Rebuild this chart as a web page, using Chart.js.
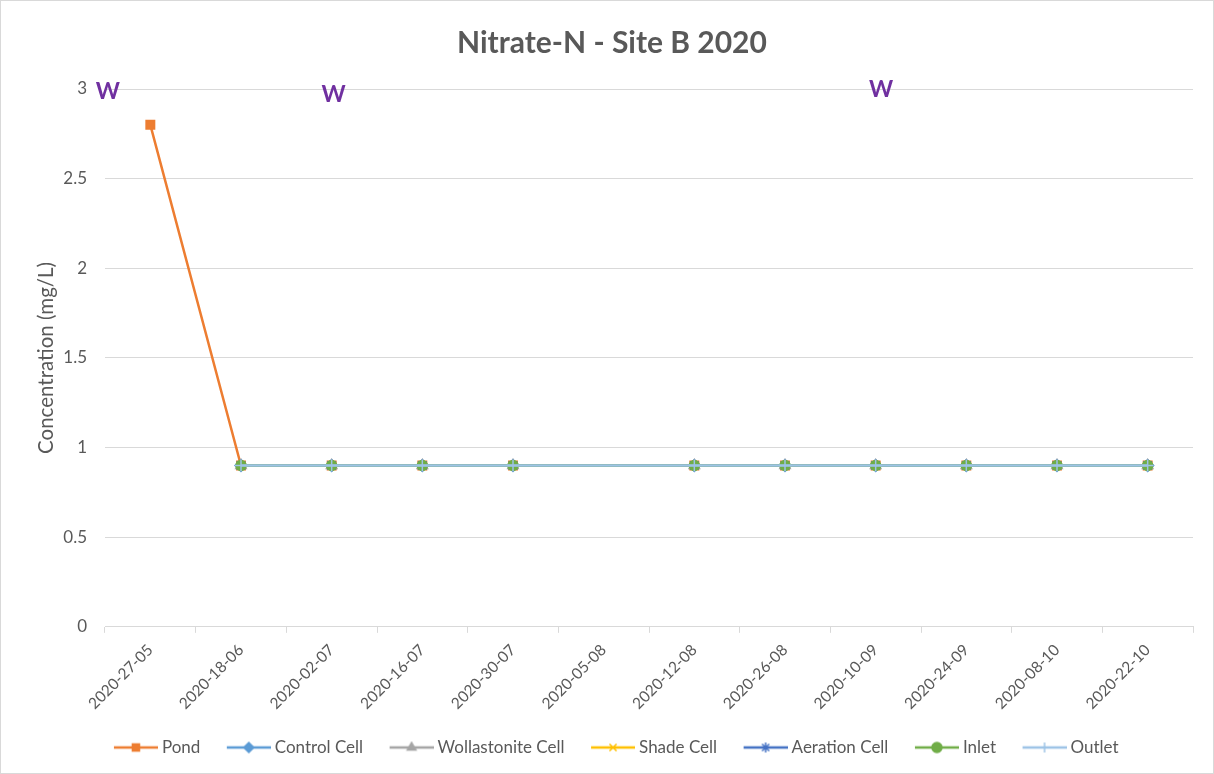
<!DOCTYPE html>
<html>
<head>
<meta charset="utf-8">
<script src="https://cdn.jsdelivr.net/npm/chart.js@4"></script>
<style>
html, body { margin: 0; padding: 0; background: #fff; }
#wrap { width: 1212px; height: 772px; border: 1px solid #d9d9d9; }
</style>
</head>
<body>
<div id="wrap"><canvas id="chart" width="1212" height="772"></canvas></div>
<script>
// sampling dates as printed on the axis
const dates = ["2020-27-05", "2020-18-06", "2020-02-07", "2020-16-07", "2020-30-07", "2020-05-08",
  "2020-12-08", "2020-26-08", "2020-10-09", "2020-24-09", "2020-08-10", "2020-22-10"];

const pond         = [2.8, 0.9, 0.9, 0.9, 0.9, null, 0.9, 0.9, 0.9, 0.9, 0.9, 0.9];
const controlCell  = [null, 0.9, 0.9, 0.9, 0.9, null, 0.9, 0.9, 0.9, 0.9, 0.9, 0.9];
const wollastonite = [null, 0.9, 0.9, 0.9, 0.9, null, 0.9, 0.9, 0.9, 0.9, 0.9, 0.9];
const shadeCell    = [null, 0.9, 0.9, 0.9, 0.9, null, 0.9, 0.9, 0.9, 0.9, 0.9, 0.9];
const aeration     = [null, 0.9, 0.9, 0.9, 0.9, null, 0.9, 0.9, 0.9, 0.9, 0.9, 0.9];
const inlet        = [null, 0.9, 0.9, 0.9, 0.9, null, 0.9, 0.9, 0.9, 0.9, 0.9, 0.9];
const outlet       = [null, 0.9, 0.9, 0.9, 0.9, null, 0.9, 0.9, 0.9, 0.9, 0.9, 0.9];

// "W" notes: category position and value
const wPos    = [-0.47, 2.02, 8.06];
const wValues = [2.99, 2.97, 3.0];

const FONT = "Lato, 'Liberation Sans', sans-serif";
const GREY = "#595959";

function series(label, data, color, style, radius, order) {
  return {
    label: label,
    data: data,
    borderColor: color,
    backgroundColor: color,
    pointBackgroundColor: color,
    pointBorderColor: color,
    pointStyle: style,
    pointRadius: radius,
    pointBorderWidth: 1.5,
    borderWidth: 2.5,
    spanGaps: true,
    tension: 0,
    order: order
  };
}

const datasets = [
  series("Pond", pond, "#ED7D31", "rect", 6, 6),
  series("Control Cell", controlCell, "#5B9BD5", "rectRot", 6, 5),
  series("Wollastonite Cell", wollastonite, "#A5A5A5", "triangle", 6, 4),
  series("Shade Cell", shadeCell, "#FFC000", "crossRot", 6, 3),
  series("Aeration Cell", aeration, "#4472C4", "star", 6, 2),
  series("Inlet", inlet, "#70AD47", "circle", 5, 1),
  series("Outlet", outlet, "#9DC3E6", "cross", 6, 0)
];

// legend swatch: short line with the marker in the middle
// (transparent margin on the left gives the gap between entries)
function swatch(ds) {
  const c = document.createElement("canvas");
  c.width = 57; c.height = 14;
  const g = c.getContext("2d");
  g.strokeStyle = ds.borderColor;
  g.lineWidth = 2.5;
  g.beginPath(); g.moveTo(13, 7); g.lineTo(57, 7); g.stroke();
  g.fillStyle = ds.backgroundColor;
  g.strokeStyle = ds.borderColor;
  g.lineWidth = 1.5;
  Chart.helpers.drawPoint(g, { pointStyle: ds.pointStyle, radius: 5, rotation: 0, borderWidth: 1.5 }, 35, 7);
  return c;
}

const wNotes = {
  id: "wNotes",
  afterDatasetsDraw(chart) {
    const ctx = chart.ctx;
    const x = chart.scales.x, y = chart.scales.y;
    ctx.save();
    ctx.fillStyle = "#7030A0";
    ctx.font = "bold 23px " + FONT;
    ctx.textAlign = "center";
    ctx.textBaseline = "alphabetic";
    wPos.forEach((p, i) => ctx.fillText("W", x.getPixelForValue(p), y.getPixelForValue(wValues[i]) + 8));
    ctx.restore();
  }
};

new Chart(document.getElementById("chart"), {
  type: "line",
  data: { labels: dates, datasets: datasets },
  plugins: [wNotes],
  options: {
    responsive: false,
    animation: false,
    layout: { padding: { left: 30, right: 20, top: 6, bottom: 7 } },
    plugins: {
      title: {
        display: true,
        text: "Nitrate-N - Site B 2020",
        color: GREY,
        font: { family: FONT, size: 30, weight: "bold" },
        padding: { top: 18, bottom: 28 }
      },
      legend: {
        position: "bottom",
        labels: {
          color: GREY,
          font: { family: FONT, size: 17 },
          usePointStyle: true,
          pointStyleWidth: 48,
          padding: 18,
          generateLabels(chart) {
            return chart.data.datasets.map((ds, i) => ({
              text: ds.label,
              fontColor: GREY,
              pointStyle: swatch(ds),
              datasetIndex: i,
              hidden: false,
              lineWidth: 0
            }));
          }
        }
      },
      tooltip: { enabled: false }
    },
    scales: {
      x: {
        offset: true,
        grid: { offset: true, drawOnChartArea: false, drawTicks: true, tickLength: 6, color: "#D9D9D9" },
        border: { display: true, color: "#D9D9D9", width: 1 },
        ticks: { color: GREY, font: { family: FONT, size: 15.5 }, minRotation: 45, maxRotation: 45, autoSkip: false, padding: 8 }
      },
      y: {
        min: 0,
        max: 3,
        afterFit: s => { s.width = 74; },
        ticks: { stepSize: 0.5, color: GREY, font: { family: FONT, size: 17 }, padding: 18,
          callback: v => String(v) },
        grid: { color: "#D9D9D9", drawTicks: false },
        border: { display: false },
        title: { display: true, text: "Concentration (mg/L)", color: GREY, font: { family: FONT, size: 20.5 }, padding: { top: 3, bottom: 4 } }
      }
    }
  }
});
</script>
</body>
</html>
